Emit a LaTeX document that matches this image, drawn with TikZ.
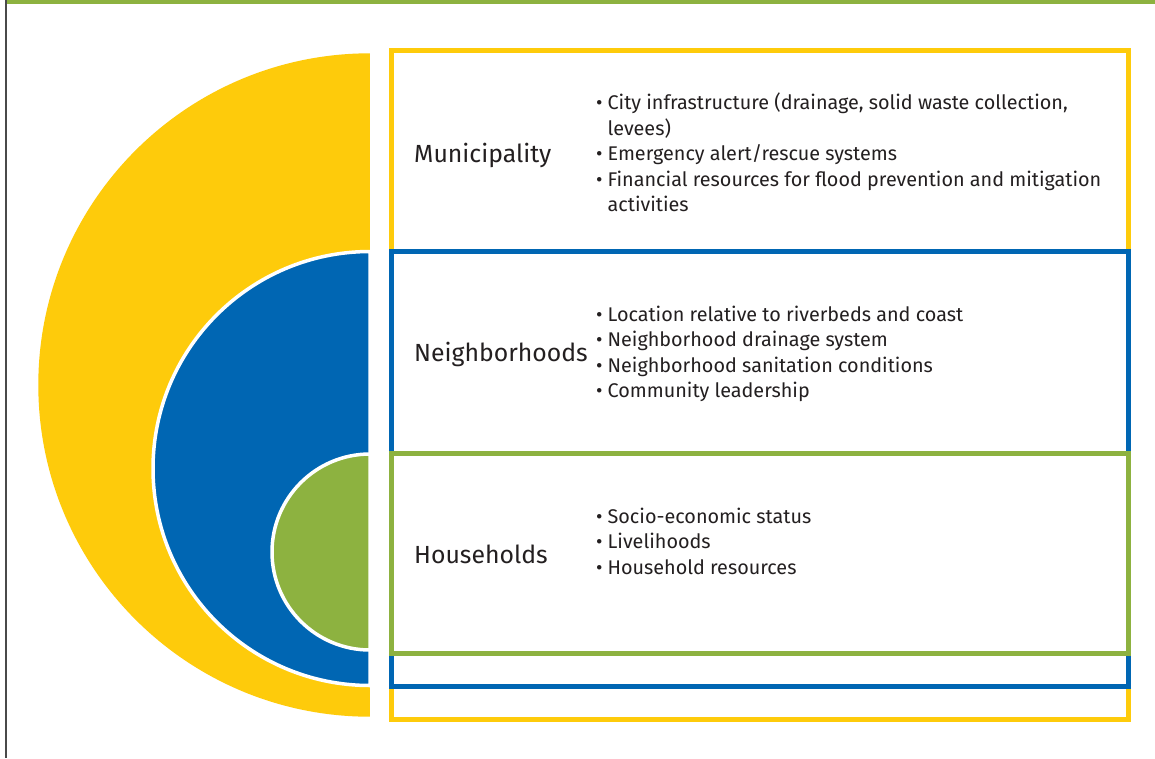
\documentclass[tikz,border=0pt]{standalone}
\usepackage{fontspec}
\setmainfont{Fira Sans}
\definecolor{cyellow}{HTML}{FECB0B}
\definecolor{cblue}{HTML}{0066B3}
\definecolor{cgreen}{HTML}{8DB240}
\definecolor{cgray}{HTML}{4A4A4A}
\definecolor{ctext}{HTML}{231F20}
\tikzset{
  levelbox/.style={line width=5pt},
  label/.style={anchor=west, inner sep=0pt, text=ctext, font=\fontsize{24.8}{30}\selectfont},
  listnode/.style={anchor=west, inner sep=0pt, text=ctext, font=\fontsize{19.8}{25.5}\selectfont},
  halfdisc/.style={draw=white, line width=3.5pt}
}
\newcommand{\bl}{\textbullet}
\begin{document}
\begin{tikzpicture}[x=1pt,y=-1pt]
\useasboundingbox (0,0) rectangle (1155,758);
\fill[white] (0,0) rectangle (1155,758);
% frame lines
\fill[cgreen] (6.5,0) rectangle (1155,3.7);
\fill[cgray] (5.2,0) rectangle (6.8,758);
% half discs
\fill[cyellow] (370,53.3) arc[start angle=270, end angle=90, radius=331.7] -- cycle;
\filldraw[halfdisc, fill=cblue] (370,251.5) arc[start angle=270, end angle=90, radius=217] -- cycle;
\filldraw[halfdisc, fill=cgreen] (370,454) arc[start angle=270, end angle=90, radius=98] -- cycle;
\fill[white] (370,40) rectangle (388,730);
% boxes
\draw[levelbox, cyellow] (391.7,50.8) rectangle (1128.5,719.2);
\draw[levelbox, cblue] (391.7,251.2) rectangle (1128.5,686.8);
\draw[levelbox, cgreen] (391.7,453.2) rectangle (1128.5,653.9);
% labels
\node[label] (mun) at (414,155) {Municipality};
\node[label] (nei) at (414,354) {Neighborhoods};
\node[label] (hou) at (414,554) {Households};
% lists
\node[listnode] (munlist) at (596,155.5) {\begin{tabular}{@{}l@{\hspace{5pt}}l@{}}
\bl & City infrastructure (drainage, solid waste collection,\\
 & levees)\\
\bl & Emergency alert/rescue systems\\
\bl & Financial resources for flood prevention and mitigation\\
 & activities
\end{tabular}};
\node[listnode] (neilist) at (596,354.5) {\begin{tabular}{@{}l@{\hspace{5pt}}l@{}}
\bl & Location relative to riverbeds and coast\\
\bl & Neighborhood drainage system\\
\bl & Neighborhood sanitation conditions\\
\bl & Community leadership
\end{tabular}};
\node[listnode] (houlist) at (596,543.5) {\begin{tabular}{@{}l@{\hspace{5pt}}l@{}}
\bl & Socio-economic status\\
\bl & Livelihoods\\
\bl & Household resources
\end{tabular}};
\end{tikzpicture}
\end{document}
